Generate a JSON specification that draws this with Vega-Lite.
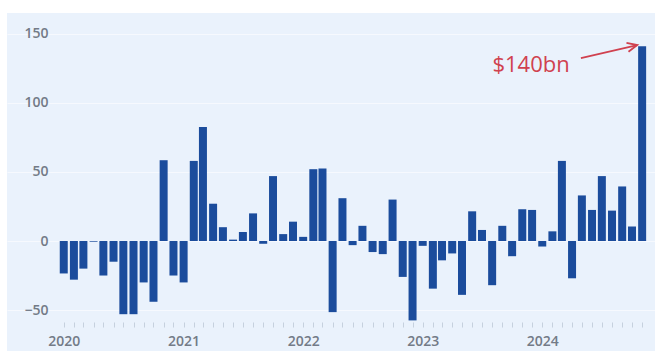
{
  "$schema": "https://vega.github.io/schema/vega-lite/v6.json",
  "width": 648,
  "height": 338,
  "autosize": "none",
  "padding": {"left": 7, "top": 13, "right": 0, "bottom": 0},
  "background": "white",
  "config": {"view": {"fill": "#eaf2fc", "stroke": null}, "font": "Open Sans"},
  "encoding": {
    "x": {
      "field": "date",
      "type": "temporal",
      "scale": {"type": "utc", "domain": [{"year": 2019, "month": 7, "date": 27, "utc": true}, {"year": 2024, "month": 11, "date": 25, "utc": true}]},
      "axis": {
        "title": null,
        "orient": "bottom",
        "offset": -29,
        "domain": false,
        "grid": false,
        "ticks": true,
        "tickSize": 5,
        "tickColor": "#c6d1de",
        "labelPadding": 7,
        "labelFontSize": 14,
        "labelFontWeight": 600,
        "labelColor": "#737b87",
        "labelOverlap": false,
        "labelFlush": false,
        "labelExpr": "utcmonth(datum.value) == 0 ? utcFormat(datum.value, '%Y') : ''",
        "values": [
          {"year": 2020, "month": 1, "utc": true}, {"year": 2020, "month": 2, "utc": true}, {"year": 2020, "month": 3, "utc": true}, {"year": 2020, "month": 4, "utc": true}, {"year": 2020, "month": 5, "utc": true}, {"year": 2020, "month": 6, "utc": true}, {"year": 2020, "month": 7, "utc": true}, {"year": 2020, "month": 8, "utc": true}, {"year": 2020, "month": 9, "utc": true}, {"year": 2020, "month": 10, "utc": true}, {"year": 2020, "month": 11, "utc": true}, {"year": 2020, "month": 12, "utc": true},
          {"year": 2021, "month": 1, "utc": true}, {"year": 2021, "month": 2, "utc": true}, {"year": 2021, "month": 3, "utc": true}, {"year": 2021, "month": 4, "utc": true}, {"year": 2021, "month": 5, "utc": true}, {"year": 2021, "month": 6, "utc": true}, {"year": 2021, "month": 7, "utc": true}, {"year": 2021, "month": 8, "utc": true}, {"year": 2021, "month": 9, "utc": true}, {"year": 2021, "month": 10, "utc": true}, {"year": 2021, "month": 11, "utc": true}, {"year": 2021, "month": 12, "utc": true},
          {"year": 2022, "month": 1, "utc": true}, {"year": 2022, "month": 2, "utc": true}, {"year": 2022, "month": 3, "utc": true}, {"year": 2022, "month": 4, "utc": true}, {"year": 2022, "month": 5, "utc": true}, {"year": 2022, "month": 6, "utc": true}, {"year": 2022, "month": 7, "utc": true}, {"year": 2022, "month": 8, "utc": true}, {"year": 2022, "month": 9, "utc": true}, {"year": 2022, "month": 10, "utc": true}, {"year": 2022, "month": 11, "utc": true}, {"year": 2022, "month": 12, "utc": true},
          {"year": 2023, "month": 1, "utc": true}, {"year": 2023, "month": 2, "utc": true}, {"year": 2023, "month": 3, "utc": true}, {"year": 2023, "month": 4, "utc": true}, {"year": 2023, "month": 5, "utc": true}, {"year": 2023, "month": 6, "utc": true}, {"year": 2023, "month": 7, "utc": true}, {"year": 2023, "month": 8, "utc": true}, {"year": 2023, "month": 9, "utc": true}, {"year": 2023, "month": 10, "utc": true}, {"year": 2023, "month": 11, "utc": true}, {"year": 2023, "month": 12, "utc": true},
          {"year": 2024, "month": 1, "utc": true}, {"year": 2024, "month": 2, "utc": true}, {"year": 2024, "month": 3, "utc": true}, {"year": 2024, "month": 4, "utc": true}, {"year": 2024, "month": 5, "utc": true}, {"year": 2024, "month": 6, "utc": true}, {"year": 2024, "month": 7, "utc": true}, {"year": 2024, "month": 8, "utc": true}, {"year": 2024, "month": 9, "utc": true}, {"year": 2024, "month": 10, "utc": true}, {"year": 2024, "month": 11, "utc": true}
        ]
      }
    },
    "y": {
      "field": "value",
      "type": "quantitative",
      "scale": {"domain": [-79.65, 165.1], "nice": false, "zero": false},
      "axis": {
        "title": null,
        "values": [-50, 0, 50, 100, 150],
        "offset": -45,
        "domain": false,
        "ticks": false,
        "labelPadding": 4,
        "labelFontSize": 14,
        "labelFontWeight": 600,
        "labelColor": "#737b87",
        "grid": true,
        "gridColor": "#f6f9fe",
        "gridWidth": 1
      }
    }
  },
  "layer": [
    {
      "data": {"values": [
        {"date": "2020-01-01", "value": -23.5},
        {"date": "2020-02-01", "value": -28},
        {"date": "2020-03-01", "value": -20},
        {"date": "2020-04-01", "value": -0.5},
        {"date": "2020-05-01", "value": -25},
        {"date": "2020-06-01", "value": -15},
        {"date": "2020-07-01", "value": -53},
        {"date": "2020-08-01", "value": -53},
        {"date": "2020-09-01", "value": -30},
        {"date": "2020-10-01", "value": -44},
        {"date": "2020-11-01", "value": 58.5},
        {"date": "2020-12-01", "value": -25},
        {"date": "2021-01-01", "value": -30},
        {"date": "2021-02-01", "value": 58},
        {"date": "2021-03-01", "value": 82.5},
        {"date": "2021-04-01", "value": 27},
        {"date": "2021-05-01", "value": 10},
        {"date": "2021-06-01", "value": 1},
        {"date": "2021-07-01", "value": 6.5},
        {"date": "2021-08-01", "value": 20},
        {"date": "2021-09-01", "value": -2},
        {"date": "2021-10-01", "value": 47},
        {"date": "2021-11-01", "value": 5},
        {"date": "2021-12-01", "value": 14},
        {"date": "2022-01-01", "value": 3},
        {"date": "2022-02-01", "value": 52},
        {"date": "2022-03-01", "value": 52.5},
        {"date": "2022-04-01", "value": -51.5},
        {"date": "2022-05-01", "value": 31},
        {"date": "2022-06-01", "value": -3},
        {"date": "2022-07-01", "value": 11},
        {"date": "2022-08-01", "value": -8},
        {"date": "2022-09-01", "value": -9.5},
        {"date": "2022-10-01", "value": 30},
        {"date": "2022-11-01", "value": -26},
        {"date": "2022-12-01", "value": -57.5},
        {"date": "2023-01-01", "value": -3.5},
        {"date": "2023-02-01", "value": -34.5},
        {"date": "2023-03-01", "value": -14},
        {"date": "2023-04-01", "value": -9},
        {"date": "2023-05-01", "value": -39},
        {"date": "2023-06-01", "value": 21.5},
        {"date": "2023-07-01", "value": 8},
        {"date": "2023-08-01", "value": -32},
        {"date": "2023-09-01", "value": 11},
        {"date": "2023-10-01", "value": -11},
        {"date": "2023-11-01", "value": 23},
        {"date": "2023-12-01", "value": 22.5},
        {"date": "2024-01-01", "value": -4},
        {"date": "2024-02-01", "value": 7},
        {"date": "2024-03-01", "value": 58},
        {"date": "2024-04-01", "value": -27},
        {"date": "2024-05-01", "value": 33},
        {"date": "2024-06-01", "value": 22.5},
        {"date": "2024-07-01", "value": 47},
        {"date": "2024-08-01", "value": 22},
        {"date": "2024-09-01", "value": 39.5},
        {"date": "2024-10-01", "value": 10.5},
        {"date": "2024-11-01", "value": 141}
      ]},
      "mark": {"type": "bar", "size": 8, "color": "#1b4c9c"},
      "encoding": {"y2": {"datum": 0}}
    },
    {
      "data": {"values": [{"date": "2024-04-28", "value": 132.5, "date2": "2024-10-17", "value2": 141.9}]},
      "mark": {"type": "rule", "color": "#d0414f", "strokeWidth": 1.8},
      "encoding": {"x2": {"field": "date2"}, "y2": {"field": "value2"}}
    },
    {
      "data": {"values": [{"date": "2024-10-17", "value": 141.9}]},
      "mark": {"type": "point", "shape": "M-1,-0.45L0,0L-1,0.45", "size": 400, "angle": -13, "filled": false, "stroke": "#d0414f", "strokeWidth": 1.8, "opacity": 1}
    },
    {
      "data": {"values": [{"date": "2023-08-02", "value": 127.4, "label": "$140bn"}]},
      "mark": {"type": "text", "align": "left", "baseline": "middle", "fontSize": 22, "color": "#d0414f"},
      "encoding": {"text": {"field": "label"}}
    }
  ]
}
